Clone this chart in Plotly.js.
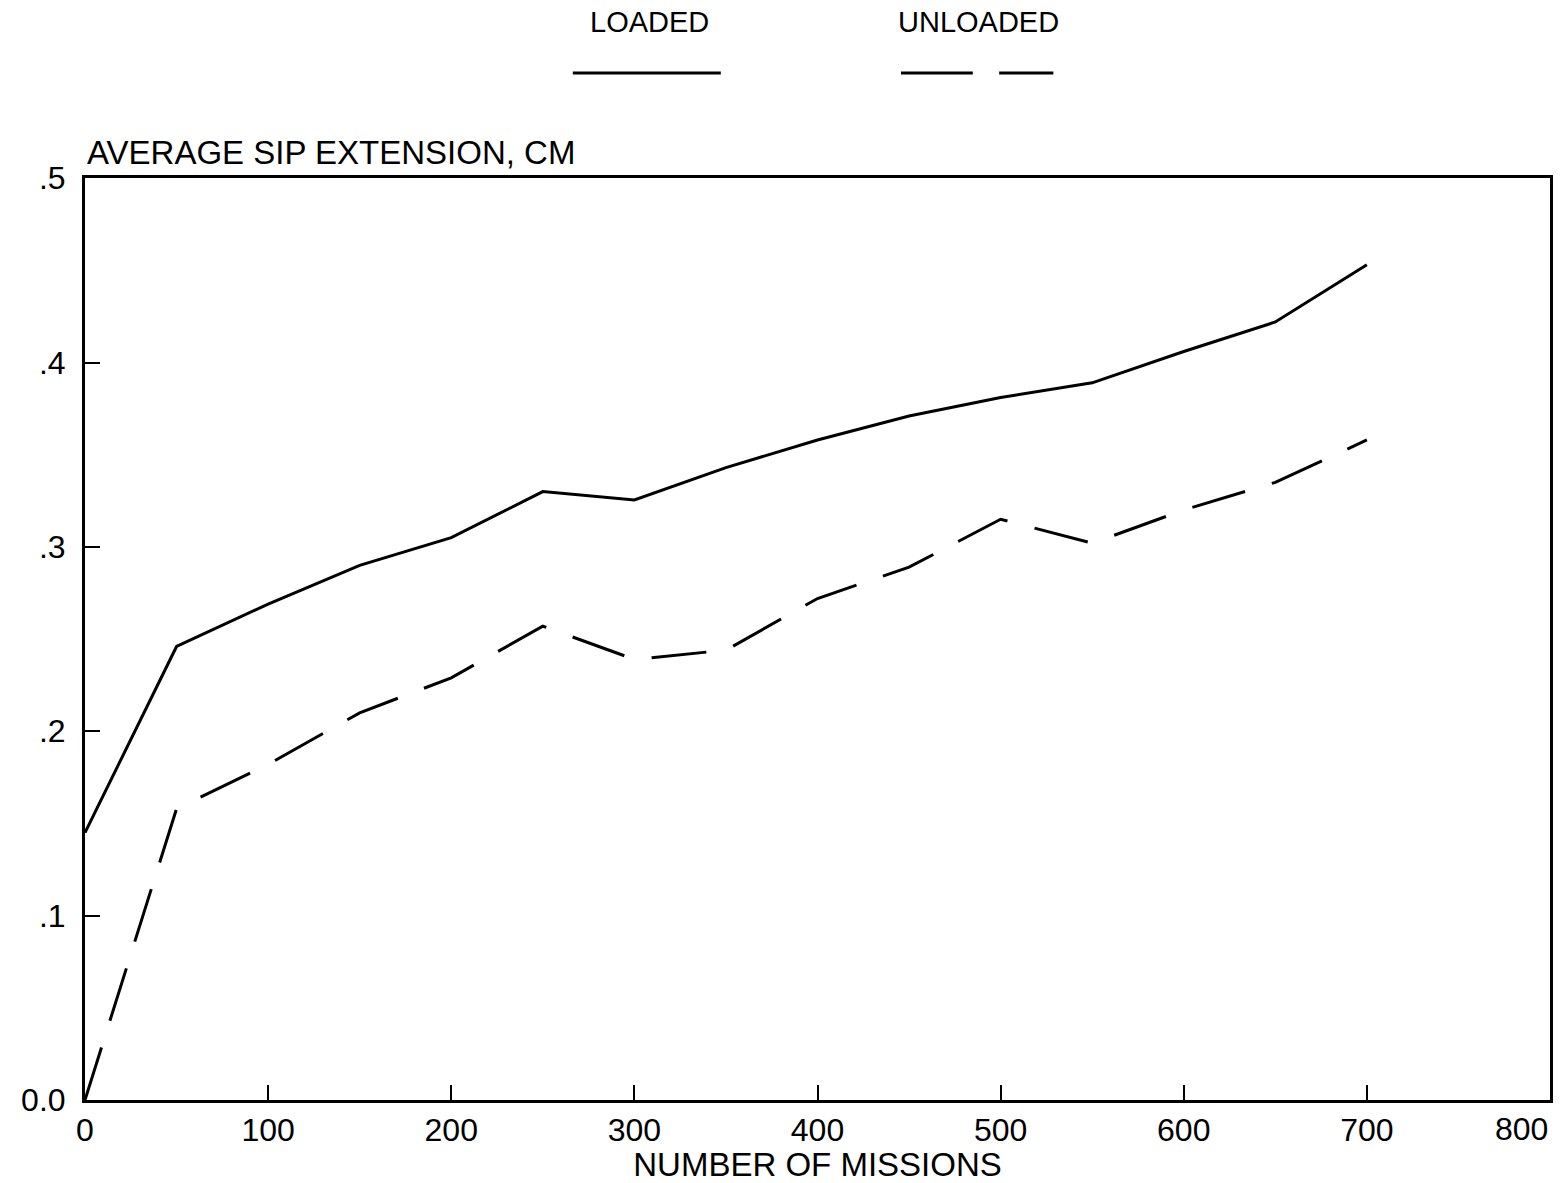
<!DOCTYPE html>
<html>
<head>
<meta charset="utf-8">
<script src="https://cdn.plot.ly/plotly-3.0.1.min.js"></script>
<style>html,body{margin:0;padding:0;background:#fff;}</style>
</head>
<body>
<div id="chart" style="width:1565px;height:1183px;"></div>
<script>
const missions = [0, 50, 100, 150, 200, 250, 300, 350, 400, 450, 500, 550, 600, 650, 700];
const loaded   = [0.145, 0.246, 0.269, 0.290, 0.305, 0.330, 0.3255, 0.343, 0.358, 0.371, 0.381, 0.389, 0.406, 0.422, 0.453];
const unloaded = [0.000, 0.158, 0.182, 0.210, 0.229, 0.257, 0.239, 0.244, 0.272, 0.289, 0.315, 0.302, 0.320, 0.335, 0.358];
const xTicks = [0, 100, 200, 300, 400, 500, 600, 700, 800];
const yTicks = [0, 0.1, 0.2, 0.3, 0.4, 0.5];
const yTickText = ['0.0', '.1', '.2', '.3', '.4', '.5'];
const seriesNames = ['LOADED', 'UNLOADED'];

const FONT = 'Liberation Sans, DejaVu Sans, sans-serif';
const lastX = xTicks[xTicks.length - 1];

const traces = [
  {x: missions, y: loaded, name: seriesNames[0], mode: 'lines', line: {color: '#000', width: 3}},
  {x: missions, y: unloaded, name: seriesNames[1], mode: 'lines', line: {color: '#000', width: 3, dash: '55px,28px'}}
];

const layout = {
  width: 1565, height: 1183,
  margin: {l: 85, r: 15, t: 178, b: 83},
  paper_bgcolor: '#fff', plot_bgcolor: '#fff',
  showlegend: false,
  font: {family: FONT, size: 32, color: '#000'},
  xaxis: {
    range: [0, lastX], tickvals: xTicks,
    ticktext: xTicks.map(v => v === lastX ? '' : String(v)),
    ticks: 'inside', ticklen: 15, tickwidth: 2, tickcolor: '#000',
    showline: true, linewidth: 3, linecolor: '#000', mirror: true,
    showgrid: false, zeroline: false,
    tickfont: {family: FONT, size: 32},
    title: {text: 'NUMBER OF MISSIONS', font: {family: FONT, size: 33}, standoff: 0}
  },
  yaxis: {
    range: [0, 0.5001], tickvals: yTicks, ticktext: yTickText,
    ticks: 'inside', ticklen: 15, tickwidth: 2, tickcolor: '#000',
    showline: true, linewidth: 3, linecolor: '#000', mirror: true,
    showgrid: false, zeroline: false, ticklabelstandoff: 10,
    tickfont: {family: FONT, size: 32}
  },
  annotations: [
    {xref: 'paper', yref: 'paper', x: 0, y: 1.005, xanchor: 'left', yanchor: 'bottom',
     text: 'AVERAGE SIP EXTENSION, CM', showarrow: false, font: {family: FONT, size: 33}},
    {xref: 'paper', yref: 'paper', x: 0.385, y: 1.169, xanchor: 'center', yanchor: 'middle',
     text: seriesNames[0], showarrow: false, font: {family: FONT, size: 29}},
    {xref: 'paper', yref: 'paper', x: 0.61, y: 1.169, xanchor: 'center', yanchor: 'middle',
     text: seriesNames[1], showarrow: false, font: {family: FONT, size: 29}},
    {xref: 'x', yref: 'paper', x: lastX, y: -0.031, xanchor: 'right', yanchor: 'middle',
     text: String(lastX), showarrow: false, font: {family: FONT, size: 32}}
  ],
  shapes: [
    {type: 'line', xref: 'paper', yref: 'paper', x0: 0.333, x1: 0.434, y0: 1.114, y1: 1.114, line: {color: '#000', width: 3}},
    {type: 'line', xref: 'paper', yref: 'paper', x0: 0.557, x1: 0.606, y0: 1.114, y1: 1.114, line: {color: '#000', width: 3}},
    {type: 'line', xref: 'paper', yref: 'paper', x0: 0.624, x1: 0.661, y0: 1.114, y1: 1.114, line: {color: '#000', width: 3}}
  ]
};

Plotly.newPlot('chart', traces, layout, {displayModeBar: false, staticPlot: true});
</script>
</body>
</html>
